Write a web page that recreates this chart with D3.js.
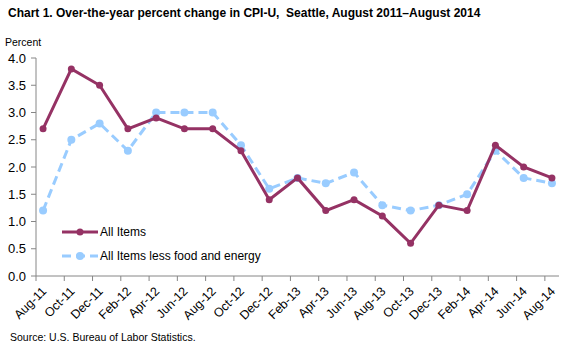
<!DOCTYPE html>
<html>
<head>
<meta charset="utf-8">
<script src="https://cdn.jsdelivr.net/npm/d3@7"></script>
<style>
  body { margin: 0; background: #fff; }
  text { font-family: "Liberation Sans", Arial, sans-serif; fill: #000; }
</style>
</head>
<body>
<div id="chart"></div>
<script>
// Data: every two months, Aug-11 .. Aug-14
let months = ["Aug-11", "Oct-11", "Dec-11", "Feb-12", "Apr-12", "Jun-12", "Aug-12", "Oct-12",
    "Dec-12", "Feb-13", "Apr-13", "Jun-13", "Aug-13", "Oct-13", "Dec-13", "Feb-14",
    "Apr-14", "Jun-14", "Aug-14"];
let allItems = [2.7, 3.8, 3.5, 2.7, 2.9, 2.7, 2.7, 2.3, 1.4, 1.8, 1.2, 1.4, 1.1, 0.6, 1.3, 1.2, 2.4, 2.0, 1.8];
let lessFoodEnergy = [1.2, 2.5, 2.8, 2.3, 3.0, 3.0, 3.0, 2.4, 1.6, 1.8, 1.7, 1.9, 1.3, 1.2, 1.3, 1.5, 2.3, 1.8, 1.7];
let yTicks = [0, 0.5, 1.0, 1.5, 2.0, 2.5, 3.0, 3.5, 4.0];

let svgWidth = 576;
let svgHeight = 346;
let margin = { top: 58, right: 17, bottom: 70, left: 36 };
let width = svgWidth - margin.left - margin.right;
let height = svgHeight - margin.top - margin.bottom;

let red = "#953264";
let blue = "#99CCFF";

let svg = d3.select("#chart").append("svg")
    .attr("width", svgWidth)
    .attr("height", svgHeight);

svg.append("text")
    .attr("x", 8)
    .attr("y", 17)
    .attr("font-size", 12)
    .attr("font-weight", "bold")
    .style("white-space", "pre")
    .text("Chart 1. Over-the-year percent change in CPI-U,  Seattle, August 2011\u2013August 2014");

svg.append("text")
    .attr("x", 5)
    .attr("y", 46)
    .attr("font-size", 10.5)
    .text("Percent");

let chartGroup = svg.append("g")
    .attr("transform", `translate(${margin.left}, ${margin.top})`);

// date axis with monthly base unit: 37 months, points in the middle of each month
let x = d3.scaleLinear().domain([0, 37]).range([0, width]);
let y = d3.scaleLinear().domain([0, 4]).range([height, 0]);
let px = (d, i) => x(2 * i + 0.5);

// y axis
chartGroup.append("line")
    .attr("x1", 0).attr("x2", 0)
    .attr("y1", 0).attr("y2", height)
    .attr("stroke", "#868686");
chartGroup.selectAll(".ytick").data(yTicks).enter().append("line")
    .attr("x1", -5).attr("x2", 0)
    .attr("y1", d => y(d)).attr("y2", d => y(d))
    .attr("stroke", "#868686");
chartGroup.selectAll(".ylab").data(yTicks).enter().append("text")
    .attr("x", -10)
    .attr("y", d => y(d) + 4.5)
    .attr("text-anchor", "end")
    .attr("font-size", 13)
    .text(d => d.toFixed(1));

// x axis
chartGroup.append("line")
    .attr("x1", 0).attr("x2", width)
    .attr("y1", height).attr("y2", height)
    .attr("stroke", "#868686");
chartGroup.selectAll(".xtick").data(months).enter().append("line")
    .attr("x1", (d, i) => x(2 * i)).attr("x2", (d, i) => x(2 * i))
    .attr("y1", height).attr("y2", height + 5)
    .attr("stroke", "#868686");
chartGroup.selectAll(".xlab").data(months).enter().append("text")
    .attr("text-anchor", "end")
    .attr("font-size", 12.5)
    .attr("transform", (d, i) => `translate(${px(d, i) + 4}, ${height + 16}) rotate(-45)`)
    .text(d => d);

// lines
let line = d3.line()
    .x((d, i) => px(d, i))
    .y(d => y(d));

chartGroup.append("path")
    .datum(lessFoodEnergy)
    .attr("fill", "none")
    .attr("stroke", blue)
    .attr("stroke-width", 3)
    .attr("stroke-dasharray", "9,5")
    .attr("d", line);
chartGroup.selectAll(".bdot").data(lessFoodEnergy).enter().append("circle")
    .attr("cx", px).attr("cy", d => y(d))
    .attr("r", 4)
    .attr("fill", blue);

chartGroup.append("path")
    .datum(allItems)
    .attr("fill", "none")
    .attr("stroke", red)
    .attr("stroke-width", 3)
    .attr("d", line);
chartGroup.selectAll(".rdot").data(allItems).enter().append("circle")
    .attr("cx", px).attr("cy", d => y(d))
    .attr("r", 3.5)
    .attr("fill", red);

// legend
let legend = svg.append("g");
let items = [
    { name: "All Items", color: red, dash: null, r: 3.5, y: 232 },
    { name: "All Items less food and energy", color: blue, dash: "9,5", r: 4, y: 256 }
];
items.forEach(it => {
    legend.append("line")
        .attr("x1", 62).attr("x2", 98)
        .attr("y1", it.y).attr("y2", it.y)
        .attr("stroke", it.color)
        .attr("stroke-width", 3)
        .attr("stroke-dasharray", it.dash);
    legend.append("circle")
        .attr("cx", 80).attr("cy", it.y)
        .attr("r", it.r)
        .attr("fill", it.color);
    legend.append("text")
        .attr("x", 100)
        .attr("y", it.y + 4)
        .attr("font-size", 12)
        .text(it.name);
});

svg.append("text")
    .attr("x", 10)
    .attr("y", 341)
    .attr("font-size", 10.5)
    .text("Source: U.S. Bureau of Labor Statistics.");
</script>
</body>
</html>
